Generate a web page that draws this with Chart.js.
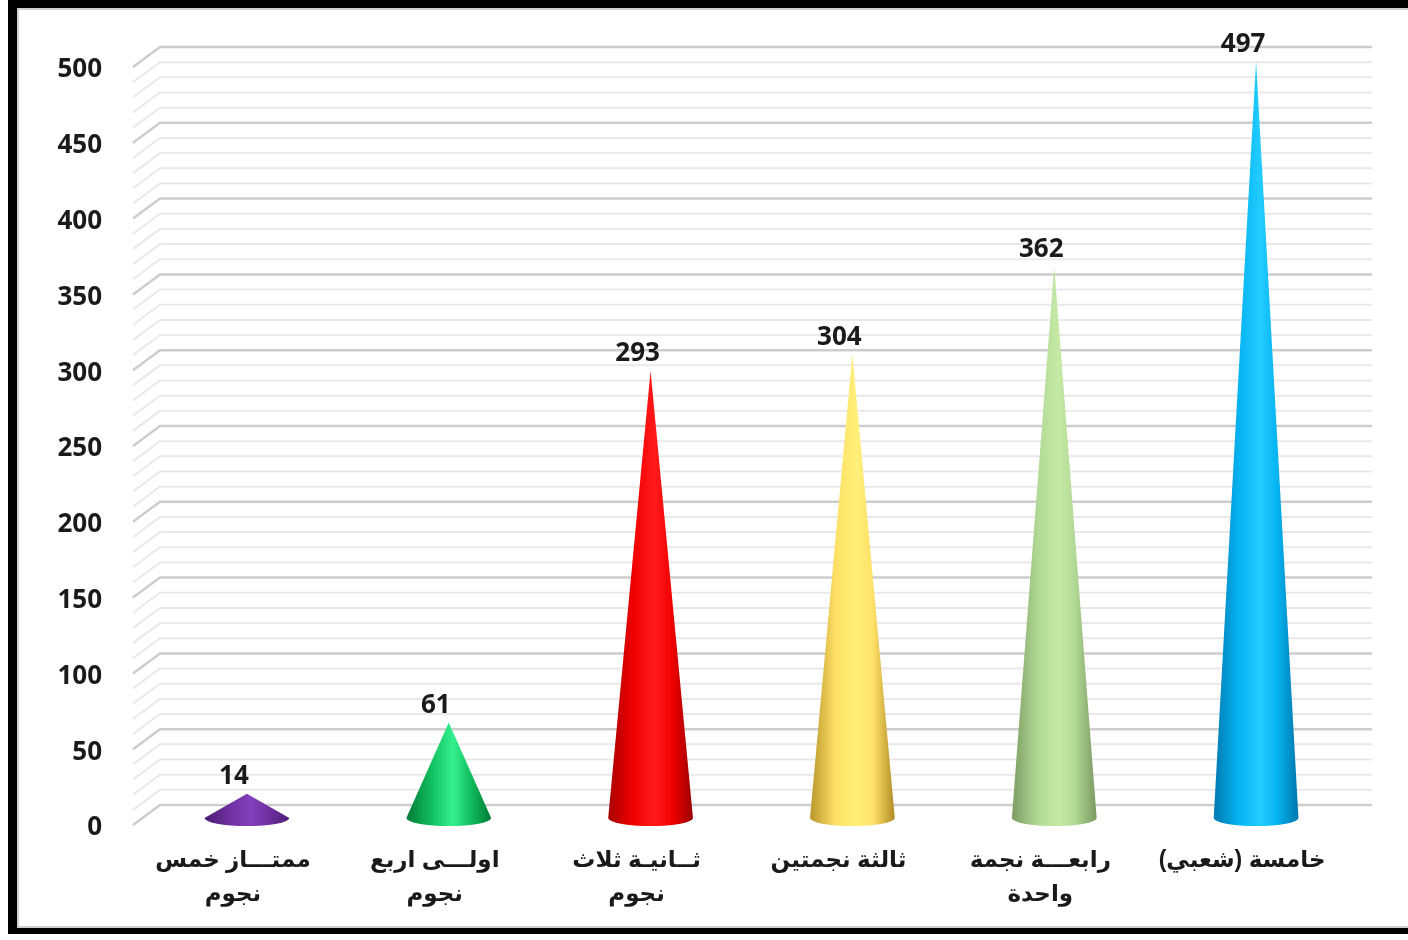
<!DOCTYPE html>
<html>
<head>
<meta charset="utf-8">
<script src="https://cdn.jsdelivr.net/npm/chart.js@4"></script>
<style>
  html, body { margin: 0; padding: 0; background: #fff; }
  #wrap { position: relative; width: 1408px; height: 940px; overflow: hidden; }
  #frame {
    position: absolute; left: 8px; top: 0; width: 1400px; height: 934px;
    border-top: 8px solid #000; border-left: 9px solid #000; border-bottom: 6px solid #000;
    box-sizing: border-box; pointer-events: none;
  }
  #frame::after {
    content: ""; position: absolute; left: 0; top: 0; right: 0; bottom: 0;
    border-top: 2px solid #cfcfcf; border-left: 2px solid #cfcfcf; border-bottom: 2px solid #cfcfcf;
  }
  canvas { position: absolute; left: 0; top: 0; }
</style>
</head>
<body>
<div id="wrap">
  <canvas id="grafik" width="1408" height="940"></canvas>
  <div id="frame"></div>
</div>
<script>
// data
const RLM = "\u200F";
const kategori = [
  [RLM + "ممتـــاز خمس" + RLM, RLM + "نجوم" + RLM],
  [RLM + "اولـــى اربع" + RLM, RLM + "نجوم" + RLM],
  [RLM + "ثــانيـة ثلاث" + RLM, RLM + "نجوم" + RLM],
  RLM + "ثالثة نجمتين" + RLM,
  [RLM + "رابعـــة نجمة" + RLM, RLM + "واحدة" + RLM],
  RLM + "خامسة (شعبي)" + RLM
];
const nilai = [14, 61, 293, 304, 362, 497];
const yMin = 0;
const yMax = 500;
const yStepMajor = 50;
const yStepMinor = 10;

// warna kerucut: [tepi kiri, terang, tengah, tepi kanan]
const warnaKerucut = [
  ["#4a1b72", "#8440bc", "#7030a0", "#4e1d78"],
  ["#007a34", "#35f08e", "#12c060", "#007a34"],
  ["#a80000", "#ff1a1a", "#f20000", "#9a0000"],
  ["#b8962c", "#fff07a", "#ffe066", "#b08a26"],
  ["#7d9c62", "#c6eaa6", "#b0d894", "#7a9860"],
  ["#0079b0", "#22ccff", "#06b4f2", "#0076ac"]
];

const FONT_ANGKA = "'Open Sans', sans-serif";
const FONT_ARAB = "'Liberation Sans', 'DejaVu Sans', sans-serif";
const DEPTH_X = 27, DEPTH_Y = 20;

/* =======================================================
   GRID 3D (dinding belakang + garis miring)
======================================================= */
const grid3d = {
  id: "grid3d",
  beforeDatasetsDraw(chart) {
    const { ctx, chartArea } = chart;
    const ys = chart.scales.y;
    const xFront = chartArea.left - 13;
    const xBack = xFront + DEPTH_X;
    const xRight = chartArea.right + 15;
    ctx.save();
    for (let v = yMin; v <= yMax; v += yStepMinor) {
      const ym = ys.getPixelForValue(v);
      const major = v % yStepMajor === 0;
      ctx.strokeStyle = major ? "#cdcdcd" : "#e9e9e9";
      ctx.lineWidth = major ? 2.5 : 2;
      ctx.beginPath();
      ctx.moveTo(xFront, ym + DEPTH_Y / 2);
      ctx.lineTo(xBack, ym - DEPTH_Y / 2);
      ctx.lineTo(xRight, ym - DEPTH_Y / 2);
      ctx.stroke();
    }
    ctx.restore();
  }
};

/* =======================================================
   KERUCUT + LABEL NILAI
======================================================= */
const kerucut = {
  id: "kerucut",
  afterDatasetsDraw(chart) {
    const { ctx } = chart;
    const meta = chart.getDatasetMeta(0);
    meta.data.forEach((bar, i) => {
      const p = bar.getProps(["x", "y", "base", "width"], true);
      const rw = p.width / 2;
      const cy = p.base + 3;
      const ry = 8;
      const c = warnaKerucut[i];
      const g = ctx.createLinearGradient(p.x - rw, 0, p.x + rw, 0);
      g.addColorStop(0, c[0]);
      g.addColorStop(0.3, c[2]);
      g.addColorStop(0.55, c[1]);
      g.addColorStop(0.75, c[2]);
      g.addColorStop(1, c[3]);
      ctx.save();
      ctx.fillStyle = g;
      ctx.beginPath();
      ctx.moveTo(p.x, p.y);
      ctx.lineTo(p.x + rw, cy);
      ctx.ellipse(p.x, cy, rw, ry, 0, 0, Math.PI);
      ctx.lineTo(p.x, p.y);
      ctx.closePath();
      ctx.fill();
      ctx.restore();

      ctx.save();
      ctx.font = "bold 26px " + FONT_ANGKA;
      ctx.fillStyle = "#1a1a1a";
      ctx.textAlign = "center";
      ctx.textBaseline = "middle";
      ctx.fillText(String(nilai[i]), p.x - 13, p.y - 17);
      ctx.restore();
    });
  }
};

new Chart(document.getElementById("grafik"), {
  type: "bar",
  data: {
    labels: kategori,
    datasets: [{
      data: nilai,
      backgroundColor: "rgba(0,0,0,0)",
      borderWidth: 0,
      barPercentage: 0.42,
      categoryPercentage: 1
    }]
  },
  options: {
    responsive: false,
    animation: false,
    layout: { padding: { top: 57, right: 51, bottom: 0, left: 0 } },
    plugins: { legend: { display: false }, tooltip: { enabled: false } },
    scales: {
      x: {
        grid: { display: false },
        border: { display: false },
        ticks: {
          autoSkip: false,
          maxRotation: 0,
          padding: 20,
          labelOffset: -14,
          color: "#1a1a1a",
          font: { family: FONT_ARAB, size: 23, weight: "bold", lineHeight: 1.5 }
        },
        afterFit: (s) => { s.height = 125; }
      },
      y: {
        min: yMin,
        max: yMax,
        grid: { display: false },
        border: { display: false },
        ticks: {
          stepSize: yStepMajor,
          padding: 36,
          labelOffset: 13,
          color: "#1a1a1a",
          font: { family: FONT_ANGKA, size: 26, weight: "bold" }
        },
        afterFit: (s) => { s.width = 146; }
      }
    }
  },
  plugins: [grid3d, kerucut]
});
</script>
</body>
</html>
